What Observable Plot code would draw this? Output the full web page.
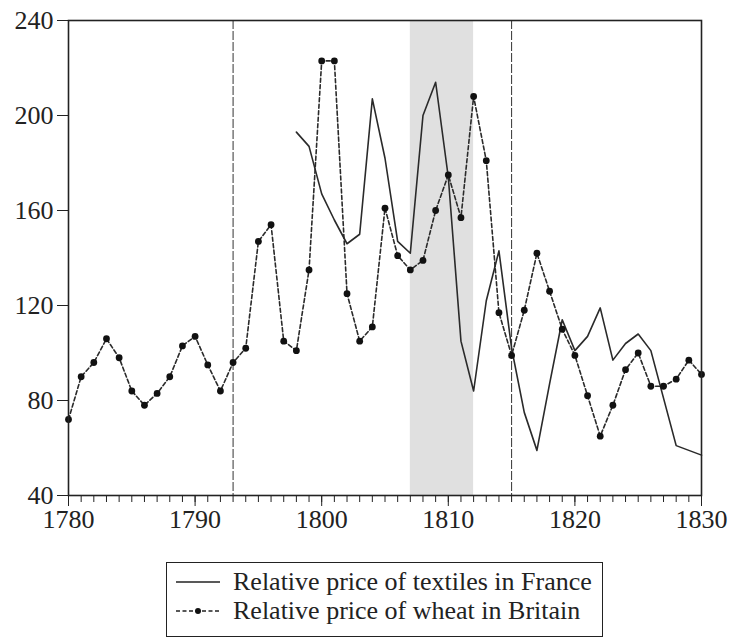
<!DOCTYPE html>
<html>
<head>
<meta charset="utf-8">
<script src="https://cdn.jsdelivr.net/npm/d3@7"></script>
<script src="https://cdn.jsdelivr.net/npm/@observablehq/plot@0.6"></script>
<style>
  html, body { margin: 0; padding: 0; background: #fff; }
  #wrap { position: relative; width: 730px; height: 639px; font-family: "Liberation Serif", "Times New Roman", serif; color: #222; }
  #legend { position: absolute; left: 166px; top: 562px; width: 437px; height: 75px; border: 1.5px solid #222; box-sizing: border-box; }
  .row { position: absolute; left: 8px; height: 30px; line-height: 30px; display: flex; align-items: center; font-size: 26px; white-space: nowrap; }
  .row svg { margin-right: 12px; }
</style>
</head>
<body>
<div id="wrap">
  <div id="chart"></div>
  <div id="legend">
    <div class="row" style="top:4px">
      <svg width="46" height="20"><line x1="1" x2="45" y1="10" y2="10" stroke="#222" stroke-width="1.5"/></svg>
      <span id="lab0"></span>
    </div>
    <div class="row" style="top:33px">
      <svg width="46" height="20"><line x1="1" x2="45" y1="10" y2="10" stroke="#222" stroke-width="1.5" stroke-dasharray="4,2.5"/><circle cx="23" cy="10" r="3" fill="#111"/></svg>
      <span id="lab1"></span>
    </div>
  </div>
</div>
<script>
// ---- data ----
const wheatYears = [1780,1781,1782,1783,1784,1785,1786,1787,1788,1789,1790,1791,1792,1793,1794,1795,1796,1797,1798,1799,
  1800,1801,1802,1803,1804,1805,1806,1807,1808,1809,1810,1811,1812,1813,1814,1815,1816,1817,1818,1819,
  1820,1821,1822,1823,1824,1825,1826,1827,1828,1829,1830];
const wheatValues = [72,90,96,106,98,84,78,83,90,103,107,95,84,96,102,147,154,105,101,135,
  223,223,125,105,111,161,141,135,139,160,175,157,208,181,117,99,118,142,126,110,
  99,82,65,78,93,100,86,86,89,97,91];
const textileYears = [1798,1799,1800,1801,1802,1803,1804,1805,1806,1807,1808,1809,1810,1811,1812,1813,1814,1815,1816,1817,
  1818,1819,1820,1821,1822,1823,1824,1825,1826,1827,1828,1829,1830];
const textileValues = [193,187,167,156,146,150,207,182,147,142,200,214,174,105,84,122,143,102,75,59,
  87,114,101,107,119,97,104,108,101,81,61,59,57];
const seriesNames = ["Relative price of textiles in France", "Relative price of wheat in Britain"];
const shadedPeriod = [1807, 1812];
const markerYears = [1793, 1815];
const xMajorTicks = [1780, 1790, 1800, 1810, 1820, 1830];
const xMinorTicks = wheatYears;
const yTicks = [40, 80, 120, 160, 200, 240];

// ---- tables ----
const wheat = wheatYears.map((y, i) => ({year: y, value: wheatValues[i]}));
const textiles = textileYears.map((y, i) => ({year: y, value: textileValues[i]}));

document.getElementById("lab0").textContent = seriesNames[0];
document.getElementById("lab1").textContent = seriesNames[1];

const chart = Plot.plot({
  width: 730,
  height: 548,
  marginLeft: 68,
  marginRight: 29,
  marginTop: 20,
  marginBottom: 53,
  style: {fontFamily: "'Liberation Serif', 'Times New Roman', serif", fontSize: "26px", color: "#222", background: "#fff"},
  x: {domain: [1780, 1830]},
  y: {domain: [40, 240]},
  marks: [
    Plot.rect([{x1: shadedPeriod[0], x2: shadedPeriod[1]}], {x1: "x1", x2: "x2", fill: "#e0e0e0"}),
    Plot.ruleX(markerYears, {stroke: "#333", strokeWidth: 1, strokeDasharray: "9,2"}),
    Plot.line(textiles, {x: "year", y: "value", stroke: "#2a2a2a", strokeWidth: 1.6}),
    Plot.line(wheat, {x: "year", y: "value", stroke: "#2a2a2a", strokeWidth: 1.6, strokeDasharray: "4,2.5"}),
    Plot.dot(wheat, {x: "year", y: "value", r: 3.4, fill: "#111", stroke: "none"}),
    Plot.axisX({ticks: xMinorTicks, tickSize: 7, tickFormat: () => "", stroke: "#222"}),
    Plot.axisX({ticks: xMajorTicks, tickSize: 11, tickPadding: 3, tickFormat: d => String(d), label: null, stroke: "#222", fill: "#222"}),
    Plot.axisY({ticks: yTicks, tickSize: 11, tickPadding: 4, label: null, stroke: "#222", fill: "#222"}),
    Plot.frame({stroke: "#222", strokeWidth: 1.6})
  ]
});
document.getElementById("chart").appendChild(chart);
</script>
</body>
</html>
